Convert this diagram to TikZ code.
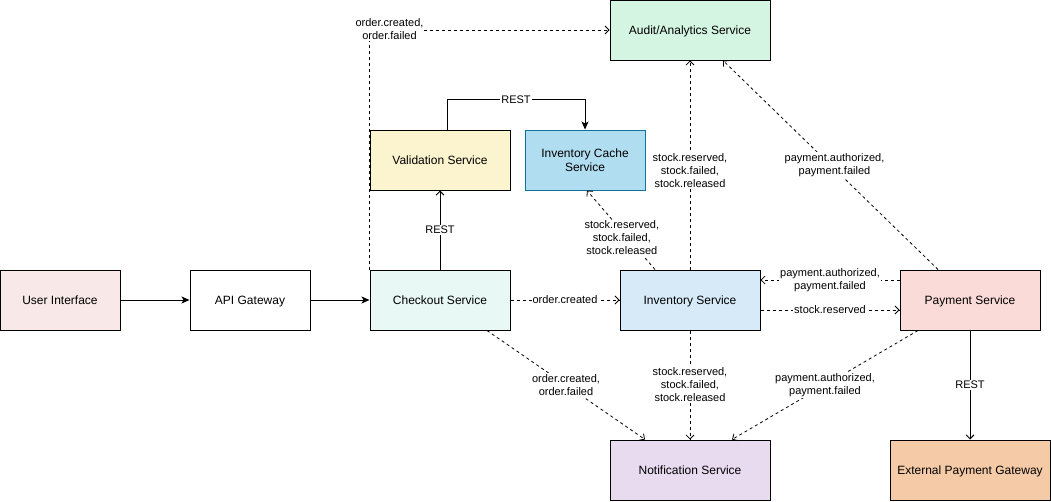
\documentclass[tikz,border=0pt]{standalone}
\usepackage{fontspec}
\setmainfont{Liberation Sans}
\usetikzlibrary{arrows.meta}
\definecolor{uifill}{HTML}{F8E8E8}
\definecolor{checkfill}{HTML}{E8F8F5}
\definecolor{valfill}{HTML}{FCF3CF}
\definecolor{cachefill}{HTML}{B1DDF0}
\definecolor{cacheline}{HTML}{10739E}
\definecolor{auditfill}{HTML}{D5F5E3}
\definecolor{invfill}{HTML}{D6EAF8}
\definecolor{payfill}{HTML}{FADBD8}
\definecolor{notifyfill}{HTML}{E8DAEF}
\definecolor{extfill}{HTML}{F5CBA7}
\tikzset{
  svc/.style={draw, rectangle, line width=1pt, minimum height=60pt, inner sep=0pt,
    text depth=0pt, align=center, font=\fontsize{12}{14}\selectfont},
  rest/.style={line width=1pt, -{Straight Barb[length=4pt,width=8pt]}},
  call/.style={line width=1pt, -{Stealth[length=8pt,width=7pt,inset=2pt]}},
  evt/.style={line width=0.8pt, dash pattern=on 3pt off 3pt, -{Straight Barb[length=4pt,width=8pt]}},
  lbl/.style={fill=white, inner sep=1pt, align=center, font=\fontsize{11}{13}\selectfont}
}
\begin{document}
\begin{tikzpicture}[x=1pt, y=-1pt]
  \useasboundingbox (0,0) rectangle (1051,501);

  \node[svc, fill=uifill, minimum width=120pt] (ui) at (60,300) {User Interface};
  \node[svc, fill=white, minimum width=120pt] (apigw) at (250,300) {API Gateway};
  \node[svc, fill=checkfill, minimum width=140pt] (checkout) at (440,300) {Checkout Service};
  \node[svc, fill=valfill, minimum width=140pt] (validation) at (440,160) {Validation Service};
  \node[svc, draw=cacheline, fill=cachefill, minimum width=120pt] (cache) at (585,160) {Inventory Cache\\Service};
  \node[svc, fill=auditfill, minimum width=160pt] (audit) at (690,30) {Audit/Analytics Service};
  \node[svc, fill=invfill, minimum width=140pt] (inventory) at (690,300) {Inventory Service};
  \node[svc, fill=payfill, minimum width=140pt] (payment) at (970,300) {Payment Service};
  \node[svc, fill=notifyfill, minimum width=160pt] (notify) at (690,470) {Notification Service};
  \node[svc, fill=extfill, minimum width=160pt] (extgw) at (970,470) {External Payment Gateway};

  % synchronous calls
  \draw[call] (ui) -- (apigw);
  \draw[call] (apigw) -- (checkout);
  \draw[rest] (checkout) -- node[lbl] {REST} (validation);
  \draw[call] ([xshift=7pt]validation.north) -- ++(0,-30) -| node[lbl, pos=0.25] {REST} (cache.north);
  \draw[rest] (payment) -- node[lbl] {REST} (extgw);

  % events
  \draw[evt] (checkout) -- node[lbl] {order.created} (inventory);
  \draw[evt] (checkout.north west) |- node[lbl, pos=0.5, xshift=20pt, yshift=1pt] {order.created,\\order.failed} (audit.west);
  \draw[evt] ([xshift=47pt]checkout.south) -- node[lbl] {order.created,\\order.failed} ([xshift=-45pt]notify.north);
  \draw[evt] ([xshift=-35pt]inventory.north) -- node[lbl, pos=0.4, xshift=-6pt] {stock.reserved,\\stock.failed,\\stock.released} ([xshift=2pt]cache.south);
  \draw[evt] (inventory.north) -- node[lbl, pos=0.475] {stock.reserved,\\stock.failed,\\stock.released} (audit.south);
  \draw[evt] (inventory.south) -- node[lbl] {stock.reserved,\\stock.failed,\\stock.released} (notify.north);
  \draw[evt] ([yshift=-10pt]inventory.east) -- node[lbl] {stock.reserved} ([yshift=-10pt]payment.west);
  \draw[evt] ([yshift=20pt]payment.west) -- node[lbl] {payment.authorized,\\payment.failed} ([yshift=20pt]inventory.east);
  \draw[evt] ([xshift=-32pt]payment.north) -- node[lbl, xshift=4pt] {payment.authorized,\\payment.failed} ([xshift=33pt]audit.south);
  \draw[evt] ([xshift=-52pt]payment.south) -- node[lbl] {payment.authorized,\\payment.failed} ([xshift=42pt]notify.north);
\end{tikzpicture}
\end{document}
